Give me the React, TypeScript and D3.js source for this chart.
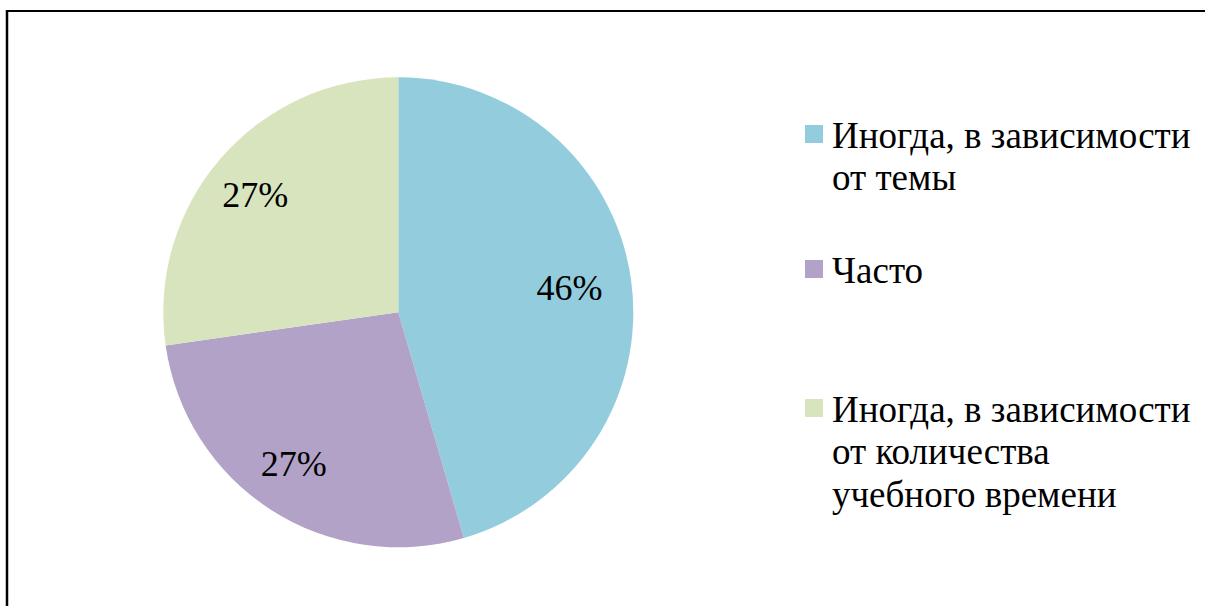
import React from "react";
import * as d3 from "d3";

const categories = [
  "Иногда, в зависимости от темы",
  "Часто",
  "Иногда, в зависимости от количества учебного времени",
];
const values = [45.5, 27.25, 27.25];
const labels = ["46%", "27%", "27%"];
const legendLines = [
  ["Иногда, в зависимости", "от темы"],
  ["Часто"],
  ["Иногда, в зависимости", "от количества", "учебного времени"],
];
const colors = ["#93CDDD", "#B3A2C7", "#D7E4BD"];

export default function App() {
  const W = 1205, H = 606;
  const cx = 398.3, cy = 312.3, R = 235;
  const pie = d3.pie<number>().sort(null).value((d) => d);
  const arcs = pie(values);
  const arc = d3.arc<d3.PieArcDatum<number>>().innerRadius(0).outerRadius(R);
  const labelArc = d3.arc<d3.PieArcDatum<number>>().innerRadius(180).outerRadius(180);
  const fontStyle = { fontFamily: '"Liberation Serif"' };
  const legendY = [148, 283, 422];
  return (
    <svg width={W} height={H} style={{ position: "absolute", left: 0, top: 0 }}>
      <rect x={0} y={0} width={W} height={H} fill="#fff" />
      <line x1={7} y1={11} x2={W} y2={11} stroke="#000" strokeWidth={2} />
      <line x1={7} y1={10} x2={7} y2={H} stroke="#000" strokeWidth={2.5} />
      <g transform={`translate(${cx},${cy})`}>
        {arcs.map((a, i) => (
          <path key={i} d={arc(a) || ""} fill={colors[i]} />
        ))}
        {arcs.map((a, i) => {
          const [x, y] = labelArc.centroid(a);
          return (
            <text key={i} x={x - 7} y={y} dy="0.35em" textAnchor="middle" style={fontStyle} fontSize={36} fill="#000">
              {labels[i]}
            </text>
          );
        })}
      </g>
      {categories.map((c, i) => (
        <g key={c}>
          <rect x={805} y={legendY[i] - 23} width={18} height={18} fill={colors[i]} />
          <text x={832} y={legendY[i]} style={fontStyle} fontSize={37} fill="#000">
            {legendLines[i].map((l, j) => (
              <tspan key={j} x={832} y={legendY[i] + j * 42.3}>{l}</tspan>
            ))}
          </text>
        </g>
      ))}
    </svg>
  );
}
